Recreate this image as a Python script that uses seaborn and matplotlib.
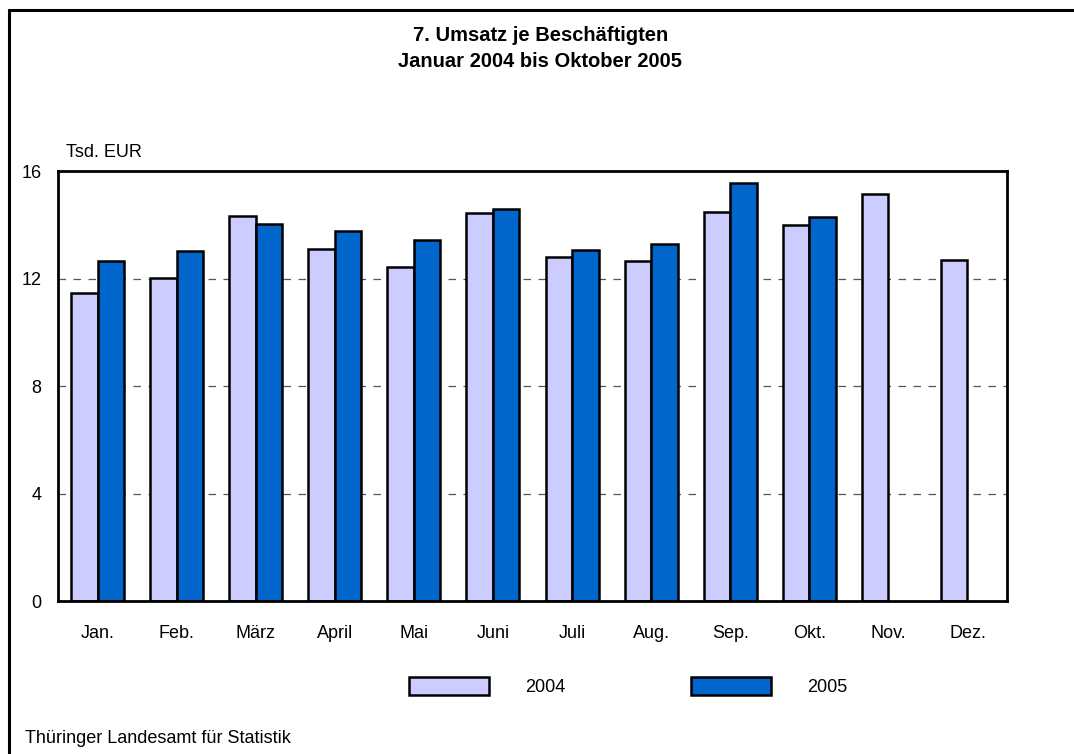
import pandas as pd
import matplotlib.pyplot as plt
import seaborn as sns
from matplotlib.lines import Line2D

# Monatswerte (Tsd. EUR)
months = ['Jan.', 'Feb.', 'März', 'April', 'Mai', 'Juni', 'Juli', 'Aug.', 'Sep.', 'Okt.', 'Nov.', 'Dez.']
values_2004 = [11.46, 12.02, 14.33, 13.10, 12.43, 14.44, 12.80, 12.65, 14.47, 13.99, 15.14, 12.69]
values_2005 = [12.65, 13.02, 14.03, 13.77, 13.43, 14.59, 13.06, 13.28, 15.55, 14.29]
years = ['2004', '2005']
colors = ['#CCCCFF', '#0066CC']

df = pd.DataFrame({
    'Monat': months + months[:len(values_2005)],
    'Jahr': ['2004'] * len(values_2004) + ['2005'] * len(values_2005),
    'Wert': values_2004 + values_2005,
})

sns.set_theme(style='white')
plt.rcParams['font.family'] = ['Liberation Sans', 'DejaVu Sans']
plt.rcParams['text.color'] = 'black'

fig = plt.figure(figsize=(10.74, 7.54), dpi=100)
ax = fig.add_axes([0.054, 0.2029, 0.8836, 0.5703])

sns.barplot(data=df, x='Monat', y='Wert', hue='Jahr', order=months, hue_order=years,
            palette=colors, width=0.67, edgecolor='black', linewidth=1.8,
            saturation=1, ax=ax, legend=True)

ax.set_xlim(-0.5, 11.5)
ax.set_ylim(0, 16)
ax.set_yticks([0, 4, 8, 12, 16])
ax.set_xlabel('')
ax.set_ylabel('')
for y in [4, 8, 12]:
    ax.axhline(y, color='#555555', linestyle=(0, (6, 6)), linewidth=0.9, zorder=0)
ax.set_axisbelow(True)
ax.tick_params(axis='both', length=0, labelsize=13, colors='black')
ax.tick_params(axis='y', pad=12)
ax.tick_params(axis='x', pad=17)
for s in ax.spines.values():
    s.set_color('black')
    s.set_linewidth(2)

handles, labels = ax.get_legend_handles_labels()
ax.legend(handles, labels, loc='center', bbox_to_anchor=(0.585, 0.0895),
          bbox_transform=fig.transFigure, ncol=2, frameon=False, fontsize=13,
          handlelength=4.4, handleheight=1.2, handletextpad=2.0, columnspacing=7.0)

fig.text(0.503, 0.953, '7. Umsatz je Beschäftigten', ha='center', va='center',
         fontsize=14.5, fontweight='bold')
fig.text(0.503, 0.918, 'Januar 2004 bis Oktober 2005', ha='center', va='center',
         fontsize=14.5, fontweight='bold')
fig.text(0.061, 0.798, 'Tsd. EUR', ha='left', va='center', fontsize=13)
fig.text(0.023, 0.021, 'Thüringer Landesamt für Statistik', ha='left', va='center', fontsize=13)

# Rahmen oben und links
fig.add_artist(Line2D([0.0085, 0.0085], [0.0, 0.987], color='black', linewidth=2.2,
                      transform=fig.transFigure))
fig.add_artist(Line2D([0.0085, 1.0], [0.987, 0.987], color='black', linewidth=2.2,
                      transform=fig.transFigure))

fig.savefig('out.png', dpi=100)
